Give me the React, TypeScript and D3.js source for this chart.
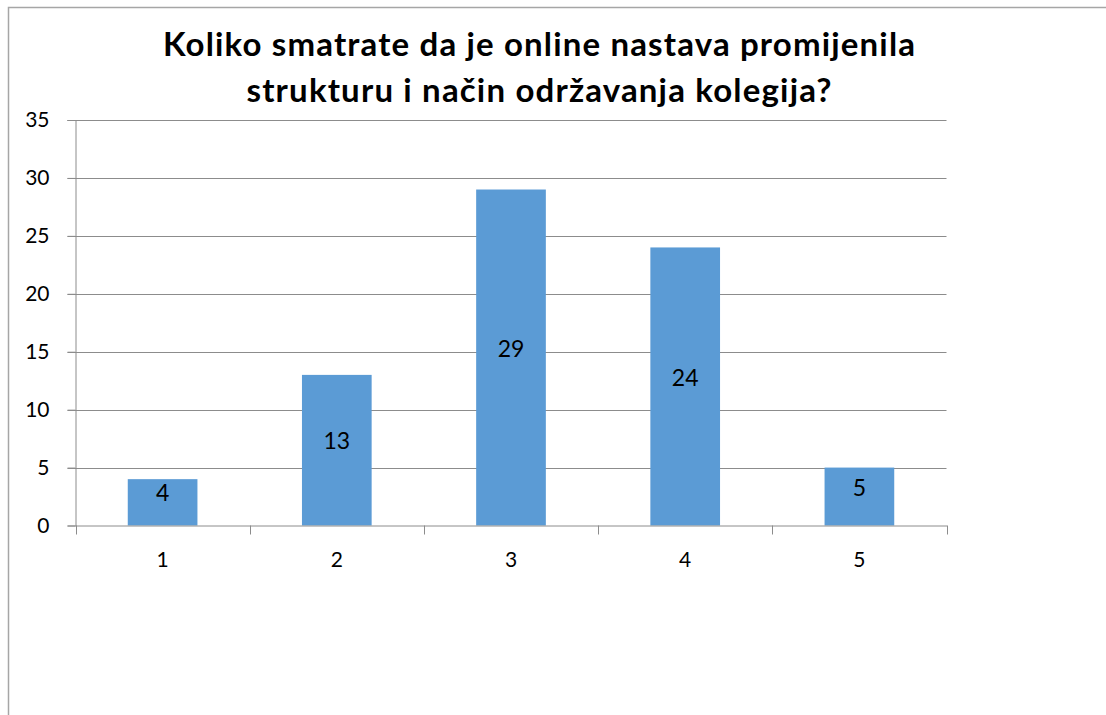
import React, { useEffect, useRef } from 'react'
import * as d3 from 'd3'

const categories = ['1', '2', '3', '4', '5']
const values = [4, 13, 29, 24, 5]
const yTicks = [0, 5, 10, 15, 20, 25, 30, 35]
const titleLines = [
  'Koliko smatrate da je online nastava promijenila',
  'strukturu i način održavanja kolegija?',
]

export default function App() {
  const ref = useRef<SVGSVGElement>(null)
  useEffect(() => {
    const el = ref.current
    if (!el) return
    const svg = d3.select(el)
    svg.selectAll('*').remove()
    const w = 1106, h = 715
    const left = 75.5, right = 946.5, top = 120, bottom = 525.5
    const font = 'Lato, "Open Sans", sans-serif'

    // outer frame
    svg.append('rect').attr('x', 8.5).attr('y', 7.5).attr('width', w + 20).attr('height', h + 20)
      .attr('fill', '#fff').attr('stroke', '#a6a6a6').attr('stroke-width', 1.5)

    const x = d3.scaleBand().domain(categories).range([left, right]).paddingInner(0.6).paddingOuter(0.3)
    const xb = d3.scaleBand().domain(categories).range([left, right])
    const y = d3.scaleLinear().domain([0, 35]).range([bottom, top])

    // grid
    svg.append('g').selectAll('line').data(yTicks.filter(t => t > 0)).enter().append('line')
      .attr('x1', left - 8).attr('x2', right)
      .attr('y1', d => Math.round(y(d)) + 0.5).attr('y2', d => Math.round(y(d)) + 0.5)
      .attr('stroke', '#8c8c8c').attr('stroke-width', 1)

    // bars
    svg.append('g').selectAll('rect').data(values).enter().append('rect')
      .attr('x', (d, i) => x(categories[i])!).attr('width', x.bandwidth())
      .attr('y', d => y(d)).attr('height', d => bottom - y(d))
      .attr('fill', '#5b9bd5')

    // data labels
    svg.append('g').selectAll('text').data(values).enter().append('text')
      .attr('x', (d, i) => x(categories[i])! + x.bandwidth() / 2)
      .attr('y', d => (y(d) + bottom) / 2 - 9)
      .attr('dy', '0.35em').attr('text-anchor', 'middle')
      .attr('font-family', font).attr('font-size', 23).attr('fill', '#000')
      .text(d => d)

    // y axis
    const ya = svg.append('g').attr('transform', `translate(${left},0)`)
      .call(d3.axisLeft(y).tickValues(yTicks).tickSize(8).tickPadding(18))
    ya.select('.domain').attr('stroke', '#8c8c8c')
    ya.selectAll('line').attr('stroke', '#8c8c8c')
    ya.selectAll('text').attr('font-family', font).attr('font-size', 21).attr('fill', '#000')

    // x axis
    const xa = svg.append('g').attr('transform', `translate(0,${bottom})`)
      .call(d3.axisBottom(xb).tickSize(0).tickPadding(27))
    xa.select('.domain').attr('stroke', '#8c8c8c')
    xa.selectAll('text').attr('font-family', font).attr('font-size', 21).attr('fill', '#000')
    svg.append('g').selectAll('line').data(categories.concat(['end'])).enter().append('line')
      .attr('x1', (d, i) => Math.round(left + i * xb.step()) + 0.5)
      .attr('x2', (d, i) => Math.round(left + i * xb.step()) + 0.5)
      .attr('y1', bottom).attr('y2', bottom + 9)
      .attr('stroke', '#8c8c8c')

    // title
    const titleWidths = [752, 585]
    svg.append('g').selectAll('text').data(titleLines).enter().append('text')
      .attr('x', 539).attr('y', (d, i) => 56 + i * 46)
      .attr('text-anchor', 'middle').attr('font-family', font)
      .attr('font-weight', 'bold').attr('font-size', 33).attr('fill', '#000')
      .attr('textLength', (d, i) => titleWidths[i]).attr('lengthAdjust', 'spacing')
      .text(d => d)
  }, [])

  return (
    <svg ref={ref} width={1106} height={715}
      style={{ position: 'absolute', left: 0, top: 0, display: 'block' }} />
  )
}
